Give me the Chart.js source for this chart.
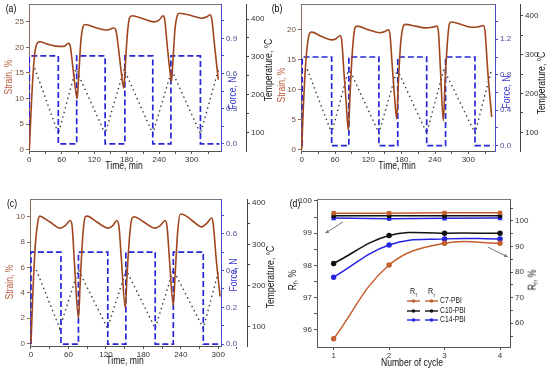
<!DOCTYPE html>
<html lang="en">
<head>
  <meta charset="UTF-8">
  <title>Shape memory cycles</title>
  <script src="https://cdn.jsdelivr.net/npm/chart.js"></script>
  <style>
    body { margin: 0; background: #fff; }
    #wrap { position: relative; width: 550px; height: 370px; overflow: hidden;
            font-family: 'Liberation Sans', Arial, sans-serif; }
    canvas { position: absolute; }
    .lbl { position: absolute; white-space: nowrap; line-height: 1; }
    sub { font-size: 70%; vertical-align: -2px; }
  </style>
</head>
<body>
<div id="wrap">
  <canvas id="ca" width="275" height="175" style="left:0;top:0"></canvas>
  <canvas id="cb" width="275" height="175" style="left:275px;top:0"></canvas>
  <canvas id="cc" width="275" height="185" style="left:0;top:185px"></canvas>
  <canvas id="cd" width="275" height="185" style="left:275px;top:185px"></canvas>
</div>
<script>
  // ---- panel (a) ----
  const strainTimeA = [0, 3, 7, 11, 16, 19, 35, 55, 64, 72, 75, 80, 85, 88.5, 91, 95, 99, 103, 125, 143, 150, 156, 160, 165, 170, 174.5, 177, 181, 185, 190, 210, 230, 240, 247, 250, 255, 259, 262.5, 265, 269, 273, 277, 300, 318, 328, 334, 337, 342, 349];
  const strainA     = [0, 7, 15, 19.5, 21.0, 21.1, 20.6, 20.2, 20.2, 20.8, 20.5, 16.5, 12, 10.0, 14, 21, 24.0, 24.5, 23.8, 23.4, 23.6, 23.8, 23.3, 19.5, 15, 12.0, 16, 22.5, 25.8, 26.2, 25.6, 25.0, 25.4, 26.2, 25.5, 20, 16, 13.3, 17, 23.5, 26.2, 26.7, 26.2, 25.7, 26.0, 26.4, 25.5, 20.5, 13.7];
  const forceTimeA  = [0, 0, 53.5, 53.5, 87.5, 87.5, 140, 140, 176.5, 176.5, 228, 228, 261.5, 261.5, 316, 316, 351];
  const forceA      = [0, 0.75, 0.75, 0, 0, 0.75, 0.75, 0, 0, 0.75, 0.75, 0, 0, 0.75, 0.75, 0, 0];
  const tempTimeA   = [10, 53.5, 86, 140, 175, 228, 263, 316, 350];
  const tempA       = [270, 97, 268, 97, 268, 97, 265, 97, 270];
  const strainTicksA = [0, 5, 10, 15, 20, 25];
  const forceTicksA  = [0, 0.3, 0.6, 0.9];
  const forceMinorA  = [0.15, 0.45, 0.75, 1.05];

  // ---- panel (b) ----
  const strainTimeB = [0, 3, 7, 11, 15, 18, 35, 54, 62, 69, 72, 76, 80, 84, 87, 91, 96, 100, 120, 141, 150, 156, 159, 163, 167, 171, 174, 178, 183, 187, 205, 222, 235, 243, 246, 250, 255, 258, 262, 266, 270, 290, 306, 318, 327, 330, 335, 342];
  const strainB     = [0, 7, 14, 18, 19.5, 19.6, 18.9, 18.3, 18.5, 19.0, 18.3, 13, 8, 3.2, 9, 16, 20.3, 20.6, 20.0, 19.5, 19.7, 20.0, 19.2, 14, 9, 5.1, 11, 17.5, 20.6, 20.9, 20.6, 20.3, 20.4, 20.6, 19.8, 13, 4.8, 11, 17.5, 21.0, 21.3, 20.8, 20.4, 20.5, 20.7, 19.8, 13, 5.4];
  const forceTimeB  = [1, 1, 54, 54, 85, 85, 139, 139, 173, 173, 225, 225, 259, 259, 312, 312, 345];
  const forceB      = [0, 1.0, 1.0, 0, 0, 1.0, 1.0, 0, 0, 1.0, 1.0, 0, 0, 1.0, 1.0, 0, 0];
  const tempTimeB   = [10, 54, 85, 139, 172, 225, 256, 312, 342];
  const tempB       = [262, 98, 265, 98, 262, 98, 262, 98, 262];
  const strainTicksB = [0, 5, 10, 15, 20];
  const forceTicksB  = [0, 0.4, 0.8, 1.2];
  const forceMinorB  = [0.2, 0.6, 1.0, 1.4];

  // ---- panel (c) ----
  const strainTimeC = [0, 3, 7, 11, 14, 17, 30, 47, 55, 63, 66, 70, 76, 79, 83, 87, 90, 105, 124, 131, 137.5, 141, 145, 151, 154, 158, 162, 165, 180, 199, 207, 215, 218, 222, 228, 231, 235, 239, 242, 258, 273.5, 282, 289.5, 292, 297, 303];
  const strainC     = [0, 4, 7.8, 9.6, 10.05, 10.0, 9.6, 9.1, 9.3, 9.7, 9.2, 6, 2.0, 5, 8.5, 10.0, 10.05, 9.6, 9.1, 9.3, 9.7, 9.2, 6.5, 2.8, 5.5, 8.5, 9.9, 10.0, 9.6, 9.1, 9.3, 9.7, 9.2, 6.5, 3.0, 5.5, 8.8, 10.2, 10.2, 9.7, 9.2, 9.5, 9.9, 9.4, 6.5, 3.7];
  const forceTimeC  = [0, 0, 48, 48, 76, 76, 123, 123, 152, 152, 199, 199, 228, 228, 276, 276, 303];
  const forceC      = [0, 0.5, 0.5, 0, 0, 0.5, 0.5, 0, 0, 0.5, 0.5, 0, 0, 0.5, 0.5, 0, 0];
  const tempTimeC   = [8.5, 46, 76, 122.6, 152.5, 199, 228, 276, 300];
  const tempC       = [238, 96, 238, 96, 238, 96, 238, 96, 232];
  const strainTicksC = [0, 2, 4, 6, 8, 10];
  const forceTicksC  = [0, 0.2, 0.4, 0.6];
  const forceMinorC  = [0.1, 0.3, 0.5, 0.7];

  const timeTicks = [0, 60, 120, 180, 240, 300];
  const timeMinor = [30, 90, 150, 210, 270, 330];
  const tempTicks = [100, 200, 300, 400];
  const tempMinor = [150, 250, 350];

  // ---- panel (d) ----
  const cycles = [1, 2, 3, 4];
  const rfC7  = [99.62, 99.62, 99.63, 99.63];
  const rfC10 = [99.54, 99.54, 99.54, 99.54];
  const rfC14 = [99.47, 99.45, 99.46, 99.47];
  const rrC7  = [53.9, 82.8, 91.3, 91.3];
  const rrC10 = [83.4, 94.3, 95.2, 95.2];
  const rrC14 = [78.0, 90.6, 93.0, 93.0];
  const rfTicks = [96, 97, 98, 99, 100];
  const rfMinor = [96.5, 97.5, 98.5, 99.5];
  const rrTicks = [60, 70, 80, 90, 100];
  const rrMinor = [55, 65, 75, 85, 95, 105];
  const seriesNames = ['C7-PBI', 'C10-PBI', 'C14-PBI'];

  const BROWN = '#a0461e';
  const BLUE = '#2626d6';
  const C7 = '#c4602e';
  const C14 = '#2424e0';
  const FONT = "'Liberation Sans', Arial, sans-serif";

  Chart.defaults.font.family = FONT;
  Chart.defaults.font.size = 8;
  Chart.defaults.animation = false;

  function pts(xs, ys) { return xs.map((x, i) => ({ x: x, y: ys[i] })); }
  function fixW(w) { return s => { s.width = w; s.paddingTop = 0; s.paddingBottom = 0; }; }
  function fixH(h) { return s => { s.height = h; s.paddingLeft = 0; s.paddingRight = 0; }; }
  function useTicks(major, minor) {
    return s => {
      s.ticks = major.concat(minor || []).sort((a, b) => a - b).map(v => ({ value: v }));
    };
  }
  function label(major, fmt) {
    return v => major.some(m => Math.abs(m - v) < 1e-9) ? (fmt ? fmt(v) : v) : '';
  }

  function axis(pos, min, max, major, minor, width, line, text, fmt, weight) {
    return {
      type: 'linear', position: pos, min: min, max: max, weight: weight || 0,
      afterBuildTicks: useTicks(major, minor), afterFit: fixW(width),
      grid: { drawOnChartArea: false, tickLength: 3, color: line },
      border: { color: line, width: 1 },
      ticks: { color: text, padding: 2, autoSkip: false, callback: label(major, fmt) }
    };
  }
  function xAxis(min, max, major, minor, h) {
    return {
      type: 'linear', min: min, max: max,
      afterBuildTicks: useTicks(major, minor), afterFit: fixH(h),
      grid: { drawOnChartArea: false, tickLength: 3, color: '#555' },
      border: { color: '#555', width: 1 },
      ticks: { color: '#333', padding: 1, autoSkip: false, maxRotation: 0, callback: label(major) }
    };
  }

  const frameTop = {
    id: 'frameTop',
    afterDraw(chart) {
      const { ctx, chartArea: r } = chart;
      ctx.save();
      ctx.strokeStyle = '#777';
      ctx.lineWidth = 1;
      ctx.beginPath();
      ctx.moveTo(r.left, r.top + 0.5);
      ctx.lineTo(r.right, r.top + 0.5);
      ctx.stroke();
      ctx.restore();
    }
  };

  function cyclePanel(id, p) {
    return new Chart(document.getElementById(id), {
      type: 'line',
      data: {
        datasets: [
          { data: pts(p.strainT, p.strain), yAxisID: 'yS', borderColor: BROWN, borderWidth: 1.6,
            pointRadius: 0, cubicInterpolationMode: 'monotone' },
          { data: pts(p.forceT, p.force), yAxisID: 'yF', borderColor: BLUE, borderWidth: 1.7,
            borderDash: [6, 3], pointRadius: 0 },
          { data: pts(p.tempT, p.temp), yAxisID: 'yT', borderColor: '#333', borderWidth: 1.4,
            borderDash: [1.4, 3.4], pointRadius: 0 }
        ]
      },
      options: {
        responsive: false,
        layout: { padding: { top: p.top, left: 0, right: 0, bottom: 0 } },
        plugins: { legend: { display: false }, tooltip: { enabled: false } },
        scales: {
          x: xAxis(p.xMin, p.xMax, timeTicks, timeMinor, p.xh),
          yS: axis('left', p.sMin, p.sMax, p.sTicks, null, p.wS, '#8a6a5a', '#6e4f40'),
          yF: axis('right', p.fMin, p.fMax, p.fTicks, p.fMinor, p.wF, '#4b4bc8', '#4a4a9a', v => v.toFixed(1), 0),
          yT: axis('right', p.tMin, p.tMax, tempTicks, tempMinor, p.wT, '#444', '#333', null, 1)
        }
      },
      plugins: [frameTop]
    });
  }

  cyclePanel('ca', {
    strainT: strainTimeA, strain: strainA, forceT: forceTimeA, force: forceA, tempT: tempTimeA, temp: tempA,
    sTicks: strainTicksA, fTicks: forceTicksA, fMinor: forceMinorA,
    xMin: -0.6, xMax: 354, sMin: -0.27, sMax: 28.5, fMin: -0.06, fMax: 1.193, tMin: 51.7, tMax: 439.6,
    top: 4, xh: 24, wS: 29, wF: 25, wT: 29
  });
  cyclePanel('cb', {
    strainT: strainTimeB, strain: strainB, forceT: forceTimeB, force: forceB, tempT: tempTimeB, temp: tempB,
    sTicks: strainTicksB, fTicks: forceTicksB, fMinor: forceMinorB,
    xMin: -1.2, xMax: 348, sMin: -0.28, sMax: 24.3, fMin: -0.06, fMax: 1.598, tMin: 52, tMax: 430,
    top: 4, xh: 24, wS: 26, wF: 25, wT: 30
  });
  cyclePanel('cc', {
    strainT: strainTimeC, strain: strainC, forceT: forceTimeC, force: forceC, tempT: tempTimeC, temp: tempC,
    sTicks: strainTicksC, fTicks: forceTicksC, fMinor: forceMinorC,
    xMin: -1.6, xMax: 304.4, sMin: -0.21, sMax: 11.4, fMin: -0.01, fMax: 0.788, tMin: 53, tMax: 410.4,
    top: 14, xh: 24, wS: 30, wF: 26, wT: 28
  });

  // legend + arrows for panel (d)
  const recoveryExtras = {
    id: 'recoveryExtras',
    afterDraw(chart) {
      const { ctx, scales } = chart;
      const { x, yL, yR } = scales;
      ctx.save();
      ctx.strokeStyle = '#777';
      ctx.fillStyle = '#777';
      ctx.lineWidth = 1;
      const arrows = [
        [x.getPixelForValue(1.17), yL.getPixelForValue(99.35), x.getPixelForValue(0.85), yL.getPixelForValue(99.0)],
        [x.getPixelForValue(3.78), yR.getPixelForValue(89.8), x.getPixelForValue(4.14), yR.getPixelForValue(85.9)]
      ];
      arrows.forEach(([x1, y1, x2, y2]) => {
        const a = Math.atan2(y2 - y1, x2 - x1);
        ctx.beginPath(); ctx.moveTo(x1, y1); ctx.lineTo(x2, y2); ctx.stroke();
        ctx.beginPath();
        ctx.moveTo(x2, y2);
        ctx.lineTo(x2 - 4 * Math.cos(a - 0.45), y2 - 4 * Math.sin(a - 0.45));
        ctx.lineTo(x2 - 4 * Math.cos(a + 0.45), y2 - 4 * Math.sin(a + 0.45));
        ctx.closePath(); ctx.fill();
      });

      // legend: R_f and R_r columns, one row per sample
      const colors = [C7, '#111', C14];
      const lx1 = 132, lx2 = 150, seg = 13, ty = 107, rowY = [116, 126, 135];
      ctx.textBaseline = 'middle';
      const txt = (s, tx, tyy, size) => {
        ctx.save();
        ctx.font = size + 'px ' + FONT;
        ctx.translate(tx, tyy);
        ctx.scale(0.8, 1);
        ctx.fillText(s, 0, 0);
        ctx.restore();
      };
      ctx.fillStyle = '#222';
      txt('R', lx1 + 3, ty, 9);
      txt('R', lx2 + 3, ty, 9);
      txt('f', lx1 + 8.5, ty + 3, 6);
      txt('r', lx2 + 8.5, ty + 3, 6);
      seriesNames.forEach((name, i) => {
        const y = rowY[i];
        ctx.strokeStyle = colors[i];
        ctx.fillStyle = colors[i];
        ctx.lineWidth = 1.4;
        [lx1, lx2].forEach(sx => {
          ctx.beginPath(); ctx.moveTo(sx, y); ctx.lineTo(sx + seg, y); ctx.stroke();
          ctx.beginPath(); ctx.arc(sx + seg / 2, y, 1.8, 0, Math.PI * 2); ctx.fill();
        });
        ctx.fillStyle = '#222';
        txt(name, lx2 + seg + 2, y, 8.5);
      });
      ctx.restore();
    }
  };

  function rf(data, color) {
    return { data: pts(cycles, data), yAxisID: 'yL', borderColor: color, backgroundColor: color,
      borderWidth: 1.5, pointRadius: 2, pointStyle: 'rect', tension: 0 };
  }
  function rr(data, color) {
    return { data: pts(cycles, data), yAxisID: 'yR', borderColor: color, backgroundColor: color,
      borderWidth: 1.5, pointRadius: 2, tension: 0.4 };
  }

  new Chart(document.getElementById('cd'), {
    type: 'line',
    data: {
      datasets: [
        rf(rfC7, C7), rf(rfC10, '#111'), rf(rfC14, C14),
        rr(rrC7, C7), rr(rrC10, '#111'), rr(rrC14, C14)
      ]
    },
    options: {
      responsive: false,
      layout: { padding: { top: 14, left: 0, right: 0, bottom: 0 } },
      plugins: { legend: { display: false }, tooltip: { enabled: false } },
      scales: {
        x: xAxis(0.7, 4.18, cycles, null, 23),
        yL: axis('left', 95.47, 100.06, rfTicks, rfMinor, 42, '#555', '#333'),
        yR: axis('right', 50.7, 108.6, rrTicks, rrMinor, 40, '#555', '#333')
      }
    },
    plugins: [frameTop, recoveryExtras]
  });

  // panel letters and axis titles (narrowed to match the condensed look of the original)
  const brownText = '#b5583a', blueText = '#3b3bd4';
  const texts = [
    ['(a)', 11, 8, false, '#000', 11], ['(b)', 277, 8, false, '#000', 11],
    ['(c)', 12, 203, false, '#000', 11], ['(d)', 295, 203, false, '#000', 11],
    ['Strain, %', 8, 77, true, brownText, 11], ['Strain, %', 281, 85, true, brownText, 11],
    ['Strain, %', 9, 282, true, brownText, 11],
    ['Force, N', 232, 93, true, blueText, 11], ['Force, N', 506, 92, true, blueText, 11],
    ['Force, N', 233, 275, true, blueText, 11],
    ['Temperature, \u00B0C', 268, 70, true, '#111', 11], ['Temperature, \u00B0C', 541, 83, true, '#111', 11],
    ['Temperature, \u00B0C', 270, 277, true, '#111', 11],
    ['Time, min', 124, 165, false, '#111', 11], ['Time, min', 397, 165, false, '#111', 11],
    ['Time, min', 125, 360, false, '#111', 11],
    ['R<sub>f</sub>, %', 293, 280, true, '#111', 11], ['R<sub>r</sub>, %', 533, 280, true, '#111', 11],
    ['Number of cycle', 412, 362, false, '#111', 11]
  ];
  const wrap = document.getElementById('wrap');
  texts.forEach(([t, x, y, rot, color, size]) => {
    const d = document.createElement('div');
    d.className = 'lbl';
    d.innerHTML = t;
    d.style.left = x + 'px';
    d.style.top = y + 'px';
    d.style.color = color;
    d.style.fontSize = size + 'px';
    d.style.transform = 'translate(-50%, -50%)' + (rot ? ' rotate(-90deg)' : '') + ' scaleX(0.78)';
    wrap.appendChild(d);
  });
</script>
</body>
</html>
